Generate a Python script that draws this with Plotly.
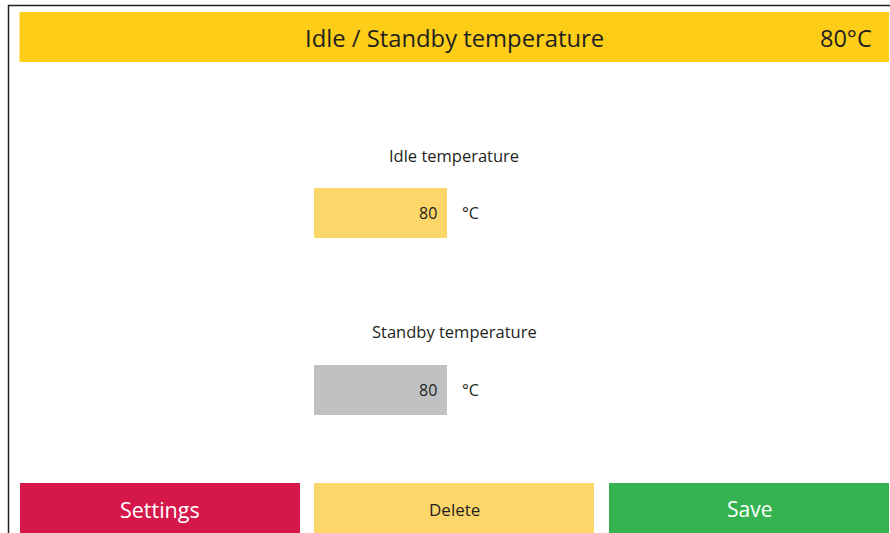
import plotly.graph_objects as go

# ---- content ----
header_title = "Idle / Standby temperature"
header_value = "80°C"
field_labels = ["Idle temperature", "Standby temperature"]
field_values = ["80", "80"]
field_units = ["°C", "°C"]
button_labels = ["Settings", "Delete", "Save"]

# ---- styles ----
YELLOW = "#FDCD17"
FIELD_COLORS = ["#FDD66A", "#C0C1C3"]
BUTTON_COLORS = ["#D6174A", "#FDD66A", "#34B350"]
BUTTON_TEXT = ["white", "#231F20", "white"]
BUTTON_SIZE = [21.5, 17, 21]
FONT = "Open Sans"
DARK = "#231F20"

W, H = 890, 533
fig = go.Figure()
shapes = []
ann = []

# outer frame
shapes.append(dict(type="rect", x0=8.5, y0=5.5, x1=W + 20, y1=H + 20,
                   line=dict(color="#222222", width=1.5), fillcolor="white", layer="below"))
# header bar
shapes.append(dict(type="rect", x0=19.5, y0=12, x1=889, y1=62,
                   line=dict(width=0), fillcolor=YELLOW, layer="below"))
ann.append(dict(x=454, y=38, text=header_title, showarrow=False,
                font=dict(family=FONT, size=23.8, color=DARK), xanchor="center", yanchor="middle"))
ann.append(dict(x=874, y=38, text=header_value, showarrow=False,
                font=dict(family=FONT, size=23.5, color=DARK), xanchor="right", yanchor="middle"))

# fields
label_y = [155, 331]
box_top = [188, 365]
for i in range(len(field_labels)):
    ann.append(dict(x=454, y=label_y[i], text=field_labels[i], showarrow=False,
                    font=dict(family=FONT, size=16.5, color=DARK), xanchor="center", yanchor="middle"))
    shapes.append(dict(type="rect", x0=314, y0=box_top[i], x1=447, y1=box_top[i] + 50,
                       line=dict(width=0), fillcolor=FIELD_COLORS[i], layer="below"))
    ann.append(dict(x=439, y=box_top[i] + 25, text=field_values[i], showarrow=False,
                    font=dict(family=FONT, size=16, color=DARK), xanchor="right", yanchor="middle"))
    ann.append(dict(x=460, y=box_top[i] + 25, text=field_units[i], showarrow=False,
                    font=dict(family=FONT, size=16, color=DARK), xanchor="left", yanchor="middle"))

# buttons
bx0 = [20, 314, 609]
for i in range(len(button_labels)):
    shapes.append(dict(type="rect", x0=bx0[i], y0=483, x1=bx0[i] + 280, y1=H + 20,
                       line=dict(width=0), fillcolor=BUTTON_COLORS[i], layer="below"))
    ann.append(dict(x=bx0[i] + 140, y=509, text=button_labels[i], showarrow=False,
                    font=dict(family=FONT, size=BUTTON_SIZE[i], color=BUTTON_TEXT[i]),
                    xanchor="center", yanchor="middle"))

fig.update_layout(
    width=W, height=H, margin=dict(l=0, r=0, t=0, b=0),
    paper_bgcolor="white", plot_bgcolor="white",
    xaxis=dict(range=[0, W], visible=False, fixedrange=True),
    yaxis=dict(range=[H, 0], visible=False, fixedrange=True),
    shapes=shapes, annotations=ann, showlegend=False,
)
fig.write_html("out.html", config={"displayModeBar": False},
               post_script="document.body.style.margin='0';document.body.style.overflow='hidden';")
